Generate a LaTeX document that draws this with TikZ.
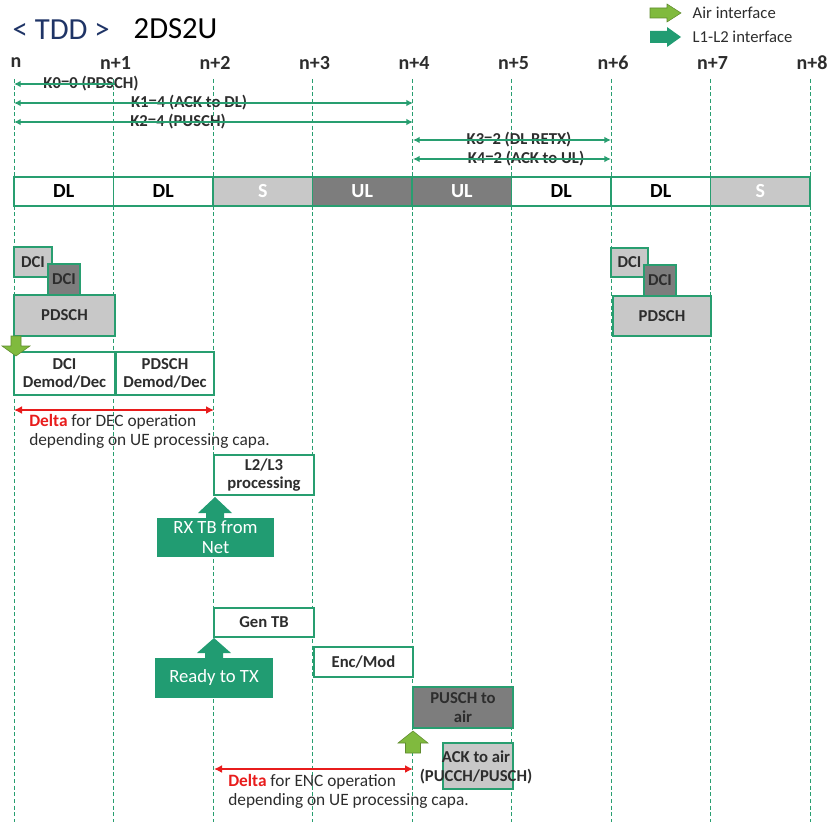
\documentclass[tikz,border=0pt]{standalone}
\usepackage{fontspec}
\setmainfont{Carlito}
\usepackage{xcolor}
\usetikzlibrary{arrows.meta, positioning}

\definecolor{linegreen}{RGB}{40,158,112}
\definecolor{netgreen}{RGB}{33,156,114}
\definecolor{airgreen}{RGB}{128,186,62}
\definecolor{sfill}{RGB}{200,200,200}
\definecolor{ulfill}{RGB}{125,125,125}
\definecolor{titleblue}{RGB}{31,52,102}
\definecolor{deltared}{RGB}{232,28,28}
\definecolor{textgray}{RGB}{45,45,45}

\begin{document}
\begin{tikzpicture}[x=0.75pt, y=-0.75pt,
    gridline/.style={linegreen, densely dashed, line width=0.6pt},
    collabel/.style={font=\bfseries\fontsize{15}{16}\selectfont, text=textgray},
    slot/.style={draw=linegreen, line width=0.9pt, inner sep=0pt, outer sep=0pt,
        minimum width=74.6pt, minimum height=21.75pt, font=\bfseries\fontsize{15}{16}\selectfont},
    klabel/.style={font=\bfseries\fontsize{12.5}{13}\selectfont, text=textgray, inner sep=0pt},
    karrow/.style={linegreen, line width=1.1pt, {Latex[length=5pt,width=5pt]}-{Latex[length=5pt,width=5pt]}},
    box/.style={draw=linegreen, line width=0.8pt, inner sep=0pt, outer sep=0pt, fill=white, align=center,
        font=\bfseries\fontsize{12.5}{13.8}\selectfont, text=textgray},
    netbox/.style={fill=netgreen, inner sep=0pt, align=center, text=white,
        font=\fontsize{14}{15}\selectfont},
    deltaarrow/.style={deltared, line width=1.2pt, {Latex[length=6pt,width=6pt]}-{Latex[length=6pt,width=6pt]}},
    deltatext/.style={align=left, inner sep=0pt, text=textgray, font=\fontsize{13}{14.3}\selectfont},
    airarrow/.style={fill=airgreen, draw=airgreen!75!black, line width=0.4pt},
    netarrow/.style={fill=netgreen}]

    \useasboundingbox (0,0) rectangle (827,827);

    \node[anchor=west, text=titleblue, font=\fontsize{23}{24}\selectfont] (tdd) at (8,30) {< TDD >};
    \node[anchor=west, font=\fontsize{23}{24}\selectfont] (cfg) at (129,29) {2DS2U};

    \node[anchor=west, font=\fontsize{12.5}{13}\selectfont, text=textgray] (airtxt) at (688,13) {Air interface};
    \node[anchor=west, font=\fontsize{12.5}{13}\selectfont, text=textgray] (l1l2txt) at (688,37) {L1-L2 interface};
    \draw[airarrow] (airtxt.west) ++(-7,0) -- ++(-14,-9) -- ++(0,4) -- ++(-17,0) -- ++(0,10) -- ++(17,0) -- ++(0,4) -- cycle;
    \fill[netarrow] (l1l2txt.west) ++(-7,0) -- ++(-14,-10) -- ++(0,4) -- ++(-17,0) -- ++(0,12) -- ++(17,0) -- ++(0,4) -- cycle;

    \foreach \i in {0,...,8} {
        \pgfmathsetmacro\gx{14+99.5*\i}
        \node[collabel] (c\i) at (\gx+2,63) {\ifnum\i=0 n\else n+\i\fi};
        \coordinate (top\i) at (\gx,79);
        \coordinate (bot\i) at (\gx,822);
        \draw[gridline] (top\i) -- (bot\i);
    }

    \coordinate (k0a) at (14,84);   \coordinate (k0b) at (115,84);
    \coordinate (k1a) at (14,103);  \coordinate (k1b) at (413,103);
    \coordinate (k2a) at (14,122);  \coordinate (k2b) at (413,122);
    \coordinate (k3a) at (413,140); \coordinate (k3b) at (611,140);
    \coordinate (k4a) at (413,159); \coordinate (k4b) at (611,159);
    \node[klabel] (k0) at (91,84) {K0=0 (PDSCH)};
    \node[klabel] (k1) at (189,103) {K1=4 (ACK to DL)};
    \node[klabel] (k2) at (178,122) {K2=4 (PUSCH)};
    \node[klabel] (k3) at (519,140) {K3=2 (DL RETX)};
    \node[klabel] (k4) at (526,159) {K4=2 (ACK to UL)};
    \draw[linegreen, line width=1.1pt, {Latex[length=5pt,width=5pt]}-] (k0a) -- (k0b);
    \draw[karrow] (k1a) -- (k1b);
    \draw[karrow] (k2a) -- (k2b);
    \draw[karrow] (k3a) -- (k3b);
    \draw[karrow] (k4a) -- (k4b);

    \foreach \lab/\fc/\tc [count=\j from 0] in {DL/white/black, DL/white/black, S/sfill/white, UL/ulfill/white,
        UL/ulfill/white, DL/white/black, DL/white/black, S/sfill/white} {
        \node[slot, fill=\fc, text=\tc] (s\j) at ({63.75+99.5*\j},191.5) {\lab};
    }

    \node[box, fill=sfill, minimum width=28.5pt, minimum height=22.5pt] (dci1) at (33,262) {DCI};
    \node[box, fill=ulfill, minimum width=24pt, minimum height=23.25pt] (dci2) at (64,279.5) {DCI};
    \node[box, fill=sfill, minimum width=75.75pt, minimum height=30.75pt] (pdsch1) at (64.5,315.5) {PDSCH};
    \node[box, fill=sfill, minimum width=27.75pt, minimum height=21.75pt] (dci3) at (629.5,262.5) {DCI};
    \node[box, fill=ulfill, minimum width=24pt, minimum height=23.25pt] (dci4) at (660,280.5) {DCI};
    \node[box, fill=sfill, minimum width=73.5pt, minimum height=30pt] (pdsch2) at (662,316) {PDSCH};

    \node[box, minimum width=75.75pt, minimum height=32.25pt] (demod1) at (64.5,373.5) {DCI\\Demod/Dec};
    \node[box, minimum width=73.5pt, minimum height=32.25pt] (demod2) at (165,373.5) {PDSCH\\Demod/Dec};
    \draw[airarrow] (demod1.north west) ++(2,4) -- ++(-14,-10) -- ++(9,0) -- ++(0,-10) -- ++(10,0) -- ++(0,10) -- ++(9,0) -- cycle;

    \coordinate (deca) at (14,410);
    \coordinate (decb) at (214,410);
    \draw[deltaarrow] (deca) -- (decb);
    \node[deltatext, anchor=north west] (dectxt) at (29,414) {\textcolor{deltared}{\bfseries Delta} for DEC operation\\depending on UE processing capa.};

    \node[box, minimum width=75pt, minimum height=30pt] (l2l3) at (264,475) {L2/L3\\processing};
    \node[netbox, minimum width=87.75pt, minimum height=29.25pt] (rxtb) at (215.5,537.5) {RX TB from\\Net};
    \fill[netarrow] (l2l3.south west) ++(1,2) -- ++(17,16) -- ++(-8,0) -- ++(0,7) -- ++(-18,0) -- ++(0,-7) -- ++(-8,0) -- cycle;

    \node[box, minimum width=75pt, minimum height=21.75pt] (gentb) at (264,622.5) {Gen TB};
    \node[netbox, minimum width=88.5pt, minimum height=30pt] (readytx) at (214,678) {Ready to TX};
    \fill[netarrow] (gentb.south west) ++(0,1) -- ++(17,15) -- ++(-8,0) -- ++(0,7) -- ++(-18,0) -- ++(0,-7) -- ++(-8,0) -- cycle;
    \node[box, minimum width=74.25pt, minimum height=22.5pt] (encmod) at (363.5,662) {Enc/Mod};

    \node[box, fill=ulfill, minimum width=75pt, minimum height=30.75pt] (puschair) at (463,707.5) {PUSCH to\\air};
    \draw[airarrow] (puschair.south west) ++(0,3) -- ++(15,12) -- ++(-7.5,0) -- ++(0,10) -- ++(-15,0) -- ++(0,-10) -- ++(-7.5,0) -- cycle;
    \node[box, fill=sfill, minimum width=52.5pt, minimum height=34.5pt] (ackbox) at (478,766) {};
    \node[align=center, inner sep=0pt, text=textgray, font=\bfseries\fontsize{12.5}{13.8}\selectfont] (acktxt) at (476,767.5) {ACK to air\\(PUCCH/PUSCH)};

    \coordinate (enca) at (214,769);
    \coordinate (encb) at (413,769);
    \draw[deltaarrow] (enca) -- (encb);
    \node[deltatext, anchor=north west] (enctxt) at (228,774) {\textcolor{deltared}{\bfseries Delta} for ENC operation\\depending on UE processing capa.};
\end{tikzpicture}
\end{document}
